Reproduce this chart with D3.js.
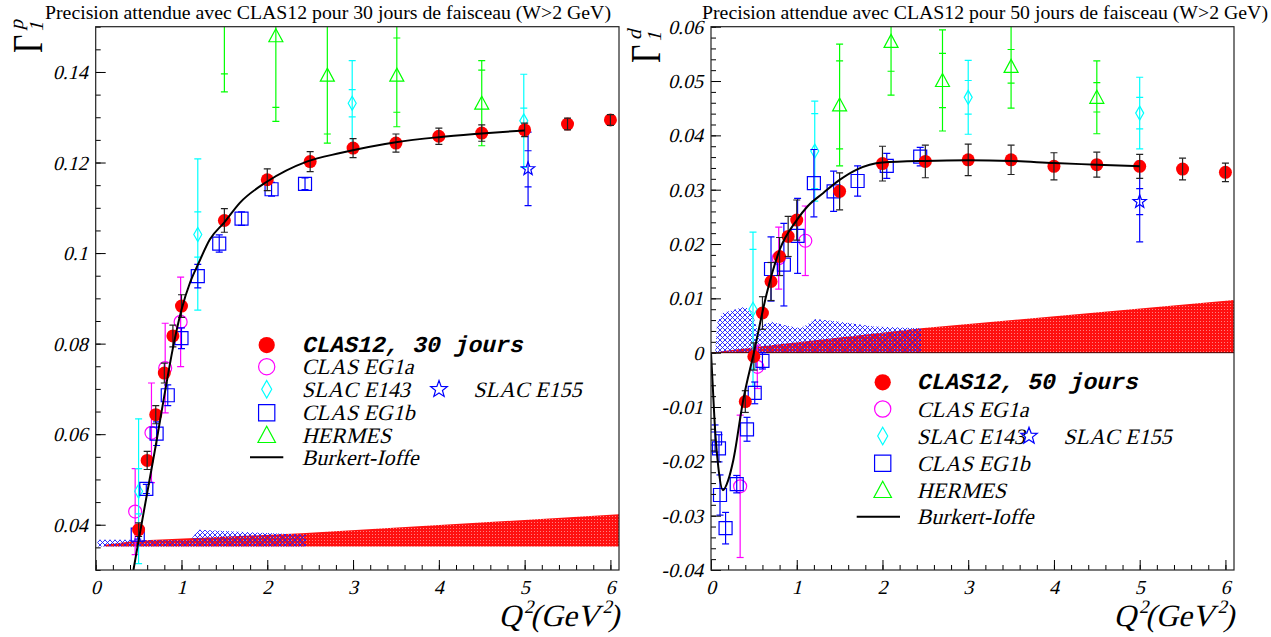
<!DOCTYPE html>
<html><head><meta charset="utf-8">
<script src="https://cdn.jsdelivr.net/npm/d3@7"></script>
<style>body{margin:0;background:#fff} svg{display:block}</style>
</head><body>
<svg id="c" width="1271" height="637"></svg>
<script>
// ---------------- DATA : left panel (proton) ----------------
const titleP = "Precision attendue avec CLAS12 pour 30 jours de faisceau (W>2 GeV)";
const titleD = "Precision attendue avec CLAS12 pour 50 jours de faisceau (W>2 GeV)";
const xTickValues = [0,1,2,3,4,5,6];
const xTickLabels = ["0","1","2","3","4","5","6"];
const yTickValuesP = [0.04,0.06,0.08,0.10,0.12,0.14];
const yTickLabelsP = ["0.04","0.06","0.08","0.1","0.12","0.14"];
const yTickValuesD = [-0.04,-0.03,-0.02,-0.01,0,0.01,0.02,0.03,0.04,0.05,0.06];
const yTickLabelsD = ["-0.04","-0.03","-0.02","-0.01","0","0.01","0.02","0.03","0.04","0.05","0.06"];
const legendLabelsP = ["CLAS12, 30 jours","CLAS EG1a","SLAC E143","CLAS EG1b","HERMES","Burkert-Ioffe","SLAC E155"];
const legendLabelsD = ["CLAS12, 50 jours","CLAS EG1a","SLAC E143","CLAS EG1b","HERMES","Burkert-Ioffe","SLAC E155"];

const clas12P_q   = [0.5,0.6,0.7,0.8,0.9,1.0,1.5,2.0,2.5,3.0,3.5,4.0,4.5,5.0,5.5,6.0];
const clas12P_v   = [0.0389,0.0542,0.0643,0.0735,0.0817,0.0883,0.1072,0.1162,0.1202,0.1232,0.1243,0.1258,0.1265,0.1272,0.1285,0.1294];
const clas12P_e   = [0.0015,0.002,0.002,0.0022,0.0024,0.0025,0.0026,0.0024,0.0022,0.0021,0.002,0.0018,0.0018,0.0015,0.0013,0.0012];
const eg1aP_q = [0.46,0.65,0.81,0.99];
const eg1aP_v = [0.0429,0.0603,0.0746,0.0848];
const eg1aP_e = [0.0095,0.011,0.0099,0.0099];
const e143P_q = [0.5,1.19,2.99,4.99];
const e143P_v = [0.0474,0.1041,0.1331,0.1292];
const e143P_stat = [0.005,0.005,0.003,0.0028];
const e143P_tot  = [0.016,0.0167,0.0094,0.0103];
const eg1bP_q = [0.49,0.59,0.71,0.84,1.0,1.19,1.44,1.70,2.05,2.44];
const eg1bP_v = [0.0378,0.0479,0.0601,0.0686,0.0812,0.0949,0.1021,0.1076,0.1141,0.1153];
const eg1bP_e = [0.001,0.001,0.0026,0.0023,0.0023,0.0026,0.0019,0.0015,0.0015,0.0013];
const e155P_q = [5.04];
const e155P_v = [0.1186];
const e155P_stat = [0.004];
const e155P_tot  = [0.0081];
const hermesP_q = [1.5,2.1,2.7,3.51,4.5];
const hermesP_v = [0.157,0.148,0.1393,0.1393,0.1331];
const hermesP_stat = [0.0174,0.0158,0.013,0.0082,0.0073];
const hermesP_tot  = [0.0214,0.0189,0.015,0.0114,0.0094];
const biP_q = [0.44,0.5,0.6,0.7,0.8,0.9,1.0,1.1,1.2,1.33,1.5,1.68,2.0,2.46,2.85,3.5,4.0,4.5,5.0];
const biP_v = [0.030,0.0365,0.047,0.0575,0.0685,0.079,0.0875,0.0935,0.0978,0.103,0.1068,0.1111,0.1158,0.1202,0.1221,0.1245,0.1256,0.1264,0.1271];
const sysRedP_q  = [0.1,0.5,2.4,6.1];
const sysRedP_hi = [0.0356,0.0365,0.0381,0.0423];
const sysRedP_lo = [0.0352,0.0352,0.0352,0.0352];
const sysBlueP_q  = [0.02,0.3,0.6,1.1,1.2,1.5,1.95,2.45];
const sysBlueP_hi = [0.0367,0.0367,0.0366,0.0365,0.0389,0.0386,0.0382,0.0378];
const sysBlueP_lo = [0.0352,0.0352,0.0352,0.0352,0.0352,0.0352,0.0352,0.0352];

// ---------------- DATA : right panel (deuteron) ----------------
const clas12D_q = [0.4,0.5,0.6,0.7,0.8,0.9,1.0,1.5,2.0,2.5,3.0,3.5,4.0,4.5,5.0,5.5,6.0];
const clas12D_v = [-0.0090,-0.0007,0.0073,0.0131,0.0177,0.0214,0.0244,0.0297,0.0348,0.0352,0.0355,0.0355,0.0343,0.0346,0.0343,0.0338,0.0332];
const clas12D_e = [0.002,0.0025,0.003,0.0035,0.0035,0.0037,0.0037,0.0034,0.0032,0.003,0.0029,0.0027,0.0025,0.0023,0.0022,0.002,0.0017];
const eg1aD_q = [0.34,0.54,0.79,1.10];
const eg1aD_v = [-0.0246,-0.0026,0.0174,0.0206];
const eg1aD_e = [0.0131,0.004,0.0057,0.0064];
const e143D_q = [0.49,1.21,3.0,5.0];
const e143D_v = [0.008,0.0371,0.047,0.0441];
const e143D_stat = [0.011,0.0069,0.0031,0.0029];
const e143D_tot  = [0.0142,0.0092,0.0068,0.0066];
const eg1bD_q = [0.047,0.093,0.105,0.17,0.30,0.42,0.51,0.60,0.70,0.85,1.01,1.20,1.43,1.71,2.05,2.44];
const eg1bD_v = [-0.0158,-0.0176,-0.0262,-0.0323,-0.0242,-0.0141,-0.0074,-0.0015,0.0154,0.0162,0.0215,0.0312,0.0297,0.0316,0.0344,0.0361];
const eg1bD_e = [0.0025,0.0025,0.0037,0.0029,0.0016,0.0022,0.002,0.0015,0.0059,0.0076,0.0069,0.0062,0.0037,0.0028,0.0023,0.0017];
const e155D_q = [5.0];
const e155D_v = [0.0278];
const e155D_stat = [0.0024];
const e155D_tot  = [0.0074];
const hermesD_q = [1.5,2.1,2.7,3.5,4.5];
const hermesD_v = [0.0456,0.0573,0.0501,0.0527,0.047];
const hermesD_stat = [0.0081,0.0055,0.005,0.0031,0.0027];
const hermesD_tot  = [0.0112,0.0099,0.0093,0.0077,0.0067];
const biD_q = [0,0.02,0.05,0.085,0.14,0.2,0.26,0.376,0.5,0.65,0.8,1.0,1.13,1.31,1.5,1.7,2.0,2.5,3.0,3.5,4.0,4.5,5.0];
const biD_v = [0,-0.006,-0.0148,-0.021,-0.0253,-0.0235,-0.0198,-0.0087,0,0.0109,0.0189,0.0244,0.027,0.0294,0.0318,0.0337,0.035,0.0353,0.0354,0.0353,0.0349,0.0346,0.0343];
const sysRedD_q  = [0.1,0.55,2.45,6.1];
const sysRedD_hi = [0.0002,0.0011,0.0045,0.0097];
const sysRedD_lo = [0,0,0,0];
const sysBlueD_q  = [0.05,0.07,0.13,0.25,0.4,0.48,0.55,0.62,0.7,0.9,1.05,1.22,1.5,1.9,2.45];
const sysBlueD_hi = [0.0,0.0054,0.0073,0.0078,0.0085,0.0075,0.0036,0.0052,0.0057,0.0049,0.0045,0.0062,0.0057,0.0048,0.0045];
const sysBlueD_lo = [0,0,0,0,0,0,0,0,0,0,0,0,0,0,0];

// ---------------- DRAWING ----------------
const serif = "'Times New Roman','Liberation Serif',serif";
const mono = "'Courier New','Liberation Mono',monospace";
const SKEW = 'skewX(-14)';
const svg = d3.select('#c');
const defs = svg.append('defs');
const pr = defs.append('pattern').attr('id','redpat').attr('width',3).attr('height',3).attr('patternUnits','userSpaceOnUse');
pr.append('rect').attr('width',3).attr('height',3).attr('fill','#ff1010');
pr.append('rect').attr('width',1).attr('height',1).attr('fill','#ff8080');
const pb = defs.append('pattern').attr('id','bluepat').attr('width',5).attr('height',5).attr('patternUnits','userSpaceOnUse');
pb.append('path').attr('d','M0,0L5,5M5,0L0,5').attr('stroke','#1a1aff').attr('stroke-width',0.9).attr('fill','none');

function itext(parent,x,y,str,size,anchor,family){
  const g=parent.append('g').attr('transform',`translate(${x},${y})`);
  return g.append('text').attr('transform',SKEW).attr('font-family',family||serif).attr('font-size',size)
    .attr('text-anchor',anchor||'start').attr('fill','#000').text(str);
}
function starPath(R, r){let p='';for(let i=0;i<10;i++){const a=-Math.PI/2+i*Math.PI/5;const rr=i%2?r:R;p+=(i?'L':'M')+(rr*Math.cos(a)).toFixed(2)+','+(rr*Math.sin(a)).toFixed(2);}return p+'Z';}
function markerPath(sym,s){
  switch(sym){
    case 'diamond': return `M0,${-7*s}L${4*s},0L0,${7*s}L${-4*s},0Z`;
    case 'square': return `M${-6.5*s},${-6.5*s}h${13*s}v${13*s}h${-13*s}Z`;
    case 'triangle': return `M0,${-7*s}L${7*s},${6*s}L${-7*s},${6*s}Z`;
    case 'star': return starPath(7*s,2.9*s);
  }
}
function drawMarker(g,sym,cx,cy,color,s){
  s = s||1;
  if(sym==='dot') g.append('circle').attr('cx',cx).attr('cy',cy).attr('r',6.5*s).attr('fill',color);
  else if(sym==='circle') g.append('circle').attr('cx',cx).attr('cy',cy).attr('r',6.5*s).attr('fill','none').attr('stroke',color).attr('stroke-width',1.2);
  else g.append('path').attr('d',markerPath(sym,s)).attr('transform',`translate(${cx},${cy})`).attr('fill','none').attr('stroke',color).attr('stroke-width',1.2);
}
function errBar(g,X,y,v,eT,eS,color){
  g.append('line').attr('x1',X).attr('x2',X).attr('y1',y(v-eT)).attr('y2',y(v+eT)).attr('stroke',color).attr('stroke-width',1.2);
  const caps=[v-eT,v+eT]; if(eS!=null) caps.push(v-eS,v+eS);
  caps.forEach(c=>g.append('line').attr('x1',X-3.5).attr('x2',X+3.5).attr('y1',y(c)).attr('y2',y(c)).attr('stroke',color).attr('stroke-width',1.2));
}
function range(a,b,s){const r=[];for(let v=a;v<=b+1e-9;v+=s)r.push(+v.toFixed(5));return r;}

function drawPanel(P){
  const x=d3.scaleLinear().domain([0,6.1]).range([P.x0,P.x1]);
  const y=d3.scaleLinear().domain(P.ydom).range([P.y1,P.y0]);
  const g=svg.append('g');
  const cid='clip'+P.id;
  defs.append('clipPath').attr('id',cid).append('rect').attr('x',P.x0).attr('y',P.y0).attr('width',P.x1-P.x0).attr('height',P.y1-P.y0);
  const pg=g.append('g').attr('clip-path',`url(#${cid})`);
  const area=d3.area().x(d=>x(d[0])).y0(d=>y(d[2])).y1(d=>y(d[1]));
  pg.append('path').attr('d',area(P.red.q.map((q,i)=>[q,P.red.hi[i],P.red.lo[i]]))).attr('fill','url(#redpat)');
  pg.append('path').attr('d',area(P.blue.q.map((q,i)=>[q,P.blue.hi[i],P.blue.lo[i]]))).attr('fill','url(#bluepat)');
  if(P.zeroLine) pg.append('line').attr('x1',x(0)).attr('x2',x(6.1)).attr('y1',y(0)).attr('y2',y(0)).attr('stroke','#400').attr('stroke-width',1);
  P.series.forEach(S=>{
    S.q.forEach((q,i)=>{
      drawMarker(pg,S.sym,x(q),y(S.v[i]),S.color);
      errBar(pg,x(q),y,S.v[i],S.tot[i],S.stat?S.stat[i]:null,S.color);
    });
  });
  P.clas.q.forEach((q,i)=>drawMarker(pg,'dot',x(q),y(P.clas.v[i]),'#ff0000'));
  P.clas.q.forEach((q,i)=>errBar(pg,x(q),y,P.clas.v[i],P.clas.e[i],null,'#222'));
  const line=d3.line().x(d=>x(d[0])).y(d=>y(d[1])).curve(d3.curveMonotoneX);
  pg.append('path').attr('d',line(P.bi.q.map((q,i)=>[q,P.bi.v[i]]))).attr('fill','none').attr('stroke','#000').attr('stroke-width',2);

  const xa=g.append('g').attr('transform',`translate(0,${P.y1})`)
    .call(d3.axisBottom(x).tickValues(xTickValues).tickSize(-10).tickFormat(''));
  const xm=g.append('g').attr('transform',`translate(0,${P.y1})`)
    .call(d3.axisBottom(x).tickValues(range(0,6.0,0.2)).tickSize(-5).tickFormat(''));
  const ya=g.append('g').attr('transform',`translate(${P.x0},0)`)
    .call(d3.axisLeft(y).tickValues(P.yTicks).tickSize(-10).tickFormat(''));
  const ym=g.append('g').attr('transform',`translate(${P.x0},0)`)
    .call(d3.axisLeft(y).tickValues(P.yMinor).tickSize(-5).tickFormat(''));
  [xa,xm,ya,ym].forEach(a=>{a.select('.domain').remove();a.selectAll('line').attr('stroke','#000').attr('stroke-width',1);});
  xTickValues.forEach((v,i)=>itext(g,x(v),P.y1+24,xTickLabels[i],20,'middle'));
  P.yTicks.forEach((v,i)=>itext(g,P.x0-8,y(v)+7,P.yLabels[i],20,'end'));

  g.append('rect').attr('x',P.x0).attr('y',P.y0).attr('width',P.x1-P.x0).attr('height',P.y1-P.y0).attr('fill','none').attr('stroke','#222').attr('stroke-width',1.2);
  g.append('text').attr('x',P.titleX).attr('y',19).attr('text-anchor','middle').attr('font-family',serif).attr('font-size',19.8).text(P.title);
  const xt=itext(g,P.x1,626,'',31,'end');
  xt.append('tspan').text('Q');
  xt.append('tspan').attr('dy',-13).attr('font-size',19).text('2');
  xt.append('tspan').attr('dy',13).text('(GeV');
  xt.append('tspan').attr('dy',-13).attr('font-size',19).text('2');
  xt.append('tspan').attr('dy',13).text(')');
  const yt=g.append('g').attr('transform',`translate(${P.ytX},${P.ytY}) rotate(-90)`);
  yt.append('text').attr('transform','scale(0.75,1)').attr('font-family',serif).attr('font-size',42).text('Γ');
  itext(yt,21,1,'1',20,'start');
  itext(yt,23,-19,P.ySup,20,'start');

  const L=P.legend, lg=g.append('g');
  const syms=['dot','circle','diamond','square','triangle','line'];
  const cols=['#ff0000','#ff00ff','#00ffff','#0000ff','#00ff00','#000'];
  syms.forEach((s,i)=>{
    const cy=L.y[i];
    if(s==='line') lg.append('line').attr('x1',L.lineX[0]).attr('x2',L.lineX[1]).attr('y1',cy).attr('y2',cy).attr('stroke','#000').attr('stroke-width',2);
    else drawMarker(lg,s,L.mx,cy,cols[i],1.25);
    if(i===0) itext(lg,L.tx,cy+7,L.labels[i],23,'start',mono).attr('font-weight','bold');
    else itext(lg,L.tx,cy+7.5,L.labels[i],22,'start');
  });
  drawMarker(lg,'star',L.starX,L.y[2],'#0000ff',1.25);
  itext(lg,L.starTx,L.y[2]+7.5,L.labels[6],22,'start');
}

drawPanel({id:'P',x0:95.7,x1:619,y0:26.7,y1:570,ydom:[0.03,0.15],
  yTicks:yTickValuesP,yLabels:yTickLabelsP,yMinor:range(0.03,0.15,0.005),
  title:titleP,titleX:328,ySup:'p',ytX:42,ytY:53,zeroLine:false,
  red:{q:sysRedP_q,hi:sysRedP_hi,lo:sysRedP_lo},blue:{q:sysBlueP_q,hi:sysBlueP_hi,lo:sysBlueP_lo},
  clas:{q:clas12P_q,v:clas12P_v,e:clas12P_e},bi:{q:biP_q,v:biP_v},
  series:[
    {q:eg1aP_q,v:eg1aP_v,tot:eg1aP_e,sym:'circle',color:'#ff00ff'},
    {q:e143P_q,v:e143P_v,tot:e143P_tot,stat:e143P_stat,sym:'diamond',color:'#00ffff'},
    {q:eg1bP_q,v:eg1bP_v,tot:eg1bP_e,sym:'square',color:'#0000ff'},
    {q:hermesP_q,v:hermesP_v,tot:hermesP_tot,stat:hermesP_stat,sym:'triangle',color:'#00ff00'},
    {q:e155P_q,v:e155P_v,tot:e155P_tot,stat:e155P_stat,sym:'star',color:'#0000ff'}],
  legend:{labels:legendLabelsP,y:[345,366.7,389.3,412.7,435,457.3],mx:266.7,tx:301.7,lineX:[250,283.3],starX:439,starTx:473.3}
});
drawPanel({id:'D',x0:711,x1:1234,y0:26.7,y1:570,ydom:[-0.04,0.06],
  yTicks:yTickValuesD,yLabels:yTickLabelsD,yMinor:range(-0.04,0.06,0.002),
  title:titleD,titleX:985,ySup:'d',ytX:660,ytY:63,zeroLine:true,
  red:{q:sysRedD_q,hi:sysRedD_hi,lo:sysRedD_lo},blue:{q:sysBlueD_q,hi:sysBlueD_hi,lo:sysBlueD_lo},
  clas:{q:clas12D_q,v:clas12D_v,e:clas12D_e},bi:{q:biD_q,v:biD_v},
  series:[
    {q:eg1aD_q,v:eg1aD_v,tot:eg1aD_e,sym:'circle',color:'#ff00ff'},
    {q:e143D_q,v:e143D_v,tot:e143D_tot,stat:e143D_stat,sym:'diamond',color:'#00ffff'},
    {q:eg1bD_q,v:eg1bD_v,tot:eg1bD_e,sym:'square',color:'#0000ff'},
    {q:hermesD_q,v:hermesD_v,tot:hermesD_tot,stat:hermesD_stat,sym:'triangle',color:'#00ff00'},
    {q:e155D_q,v:e155D_v,tot:e155D_tot,stat:e155D_stat,sym:'star',color:'#0000ff'}],
  legend:{labels:legendLabelsD,y:[382.3,409,436,463.3,490,516.7],mx:882.7,tx:916.7,lineX:[856.7,900],starX:1029,starTx:1063.3}
});
</script>
</body></html>
